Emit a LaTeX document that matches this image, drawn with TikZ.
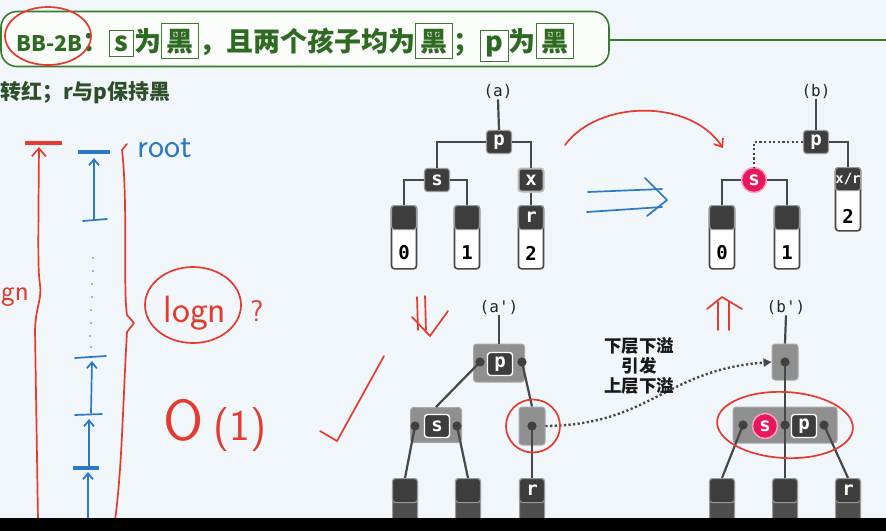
\documentclass[tikz,border=0pt]{standalone}
\usepackage{fontspec}
\newfontfamily\cjk{Noto Sans CJK SC}
\newfontfamily\mono{DejaVu Sans Mono}
\usetikzlibrary{arrows.meta,shapes.geometric,calc}

\definecolor{bgc}{HTML}{F1F6FB}
\definecolor{titlefill}{HTML}{FBFDFA}
\definecolor{tgreen}{HTML}{3A7B2C}
\definecolor{ttext}{HTML}{2E6A22}
\definecolor{subtext}{HTML}{2F4F2A}
\definecolor{edgec}{HTML}{474747}
\definecolor{nodec}{HTML}{3D3D3D}
\definecolor{nodeb}{HTML}{9A9A9A}
\definecolor{glowc}{HTML}{B8B8B8}
\definecolor{contc}{HTML}{8F8F8F}
\definecolor{contb}{HTML}{A9A9A9}
\definecolor{dotc}{HTML}{404040}
\definecolor{stackd}{HTML}{4E4E4E}
\definecolor{pinkc}{HTML}{E8175D}
\definecolor{pinkb}{HTML}{F5A3BF}
\definecolor{penred}{HTML}{E53A2E}
\definecolor{penblue}{HTML}{2B78C4}

% framed character in the heading
\newcommand\gbx[1]{{\setlength\fboxsep{4.5pt}\setlength\fboxrule{1pt}%
  \fcolorbox{tgreen}{white}{#1}}}

\tikzset{
  edge/.style={draw=edgec, line width=2.2},
  dotline/.style={draw=edgec, line width=2.4, dash pattern=on 2.2pt off 2.4pt},
  dnode/.style={rectangle, rounded corners=3, fill=nodec, draw=nodeb, line width=1.1,
    minimum width=25, minimum height=23, inner sep=0, text=white,
    font=\mono\bfseries\fontsize{19}{19}\selectfont},
  leafsq/.style={dnode, minimum height=24},
  stackbox/.style={rectangle, rounded corners=3, fill=white, draw=edgec, line width=1.6,
    minimum width=25, inner sep=0},
  stackdark/.style={rectangle, rounded corners=3, fill=stackd, draw=nodeb, line width=1,
    minimum width=25, inner sep=0},
  num/.style={font=\mono\bfseries\fontsize{19}{19}\selectfont, text=black, inner sep=0},
  lbl/.style={font=\mono\fontsize{16}{16}\selectfont, text=black!85, inner sep=1},
  gcont/.style={rectangle, rounded corners=3, fill=contc, draw=contb, line width=1, inner sep=0},
  inbox/.style={dnode, draw=white, line width=1.4},
  pinkn/.style={circle, fill=pinkc, draw=pinkb, line width=1.5, inner sep=0,
    minimum size=25, text=white, font=\mono\bfseries\fontsize{19}{19}\selectfont},
  redpen/.style={draw=penred, line width=1.7, line cap=round, line join=round},
  bluepen/.style={draw=penblue, line width=1.7, line cap=round, line join=round},
  hand/.style={font=\sffamily, inner sep=0},
}

\begin{document}
\begin{tikzpicture}[x=1pt, y=-1pt]
\useasboundingbox (0,0) rectangle (886,531);
\fill[bgc] (0,0) rectangle (886,531);

% ---------- heading ----------
\node[rectangle, rounded corners=16, draw=tgreen, line width=1.6, fill=titlefill,
  minimum width=608, minimum height=55, inner sep=0] (title) at (305,39) {};
\coordinate (rule end) at (886,40);
\draw[tgreen, line width=1.4] (title.east |- rule end) -- (rule end);
\node[anchor=base west, inner sep=0, text=ttext, font=\cjk\bfseries\fontsize{27}{27}\selectfont]
  (heading) at (16,51) {{\fontsize{21.5}{21.5}\selectfont BB-2B}：\gbx{s}为\gbx{黑}，且两个孩子均为\gbx{黑}；\gbx{p}为\gbx{黑}};
\node[anchor=west, inner sep=0, text=subtext, font=\cjk\bfseries\fontsize{21}{21}\selectfont]
  (sub) at (0,93) {转红；r与p保持黑};

% ---------- tree (a) ----------
\node[lbl] (la) at (498,91) {(a)};
\node[dnode] (ap) at (499,142) {p};
\node[dnode] (as) at (437,180) {s};
\node[dnode, draw=glowc, line width=2] (ax) at (531,180) {x};
\node[stackbox, minimum height=63, anchor=north] at (404,205) {};
\node[stackbox, minimum height=63, anchor=north] at (467,205) {};
\node[stackbox, minimum height=63, anchor=north] at (531,205) {};
\node[leafsq, anchor=north] (a0) at (404,205) {};
\node[leafsq, anchor=north] (a1) at (467,205) {};
\node[leafsq, anchor=north] (ar) at (531,205) {r};
\node[num] at (404,253) {0};
\node[num] at (467,253) {1};
\node[num] at (531,253) {2};
\draw[edge] (la.south) -- (ap.north);
\draw[edge] (ap.west) -| (as.north);
\draw[edge] (ap.east) -| (ax.north);
\draw[edge] (as.west) -| (a0.north);
\draw[edge] (as.east) -| (a1.north);
\draw[edge] (ax.south) -- (ar.north);

% ---------- tree (b) ----------
\node[lbl] (lb) at (816,91) {(b)};
\node[dnode] (bp) at (816,142) {p};
\node[pinkn] (bs) at (754,180) {s};
\node[stackbox, minimum height=63, anchor=north] at (722,205) {};
\node[stackbox, minimum height=63, anchor=north] at (787,205) {};
\node[stackbox, minimum height=63, anchor=north] at (848,167) {};
\node[leafsq, anchor=north] (b0) at (722,205) {};
\node[leafsq, anchor=north] (b1) at (787,205) {};
\node[dnode, anchor=north, font=\mono\bfseries\fontsize{14}{14}\selectfont] (bx) at (848,167) {x/r};
\node[num] at (722,253) {0};
\node[num] at (787,253) {1};
\node[num] at (848,216) {2};
\draw[edge] (lb.south) -- (bp.north);
\draw[dotline] (bp.west) -| (bs.north);
\draw[edge] (bp.east) -| (bx.north);
\draw[edge] (bs.west) -| (b0.north);
\draw[edge] (bs.east) -| (b1.north);

% ---------- tree (a') ----------
\node[lbl] (la2) at (499,307) {(a')};
\node[gcont, minimum width=51, minimum height=38] (apc) at (499,363) {};
\node[gcont, minimum width=51, minimum height=35] (asc) at (436,425) {};
\node[gcont, minimum width=26, minimum height=38] (arc) at (532,426) {};
\coordinate (apl) at (480,362);
\coordinate (apr) at (522,362);
\coordinate (asl) at (415,426);
\coordinate (asr) at (457,426);
\coordinate (arm) at (532,426);
\foreach \x in {405,468,532}
  \node[stackdark, minimum height=45, anchor=north] at (\x,478) {};
\node[leafsq, anchor=north] (c0) at (405,478) {};
\node[leafsq, anchor=north] (c1) at (468,478) {};
\node[leafsq, anchor=north] (cr) at (532,478) {r};
\draw[edge] (la2.south) -- (apc.north);
\draw[edge] (apl) -- (asc.north);
\draw[edge] (apr) -- (arc.north);
\draw[edge] (asl) -- (c0.north);
\draw[edge] (asr) -- (c1.north);
\draw[edge] (arm) -- (cr.north);
\foreach \d in {apl,apr,asl,asr,arm} \fill[dotc] (\d) circle (4.6);
\node[inbox] (app) at (500,364) {p};
\node[inbox] (ass) at (437,426) {s};

% ---------- tree (b') ----------
\node[lbl] (lb2) at (786,307) {(b')};
\node[gcont, minimum width=26, minimum height=36] (btc) at (785,362) {};
\node[gcont, minimum width=104, minimum height=36] (bmc) at (785,425) {};
\coordinate (btm) at (785,362);
\coordinate (bml) at (743,425);
\coordinate (bmm) at (785,425);
\coordinate (bmr) at (824,425);
\foreach \x in {722,785,848}
  \node[stackdark, minimum height=45, anchor=north] at (\x,478) {};
\node[leafsq, anchor=north] (d0) at (722,478) {};
\node[leafsq, anchor=north] (d1) at (785,478) {};
\node[leafsq, anchor=north] (dr) at (848,478) {r};
\draw[edge] (lb2.south) -- (btc.north);
\draw[edge] (btm) -- (bmm);
\draw[edge] (bml) -- (d0.north);
\draw[edge] (bmm) -- (d1.north);
\draw[edge] (bmr) -- (dr.north);
\foreach \d in {btm,bml,bmm,bmr} \fill[dotc] (\d) circle (4.6);
\node[pinkn] (bms) at (765,426) {s};
\node[inbox] (bmp) at (804,426) {p};

% overflow propagates upward
\draw[dotline, -{Triangle[length=8,width=8]}] (arc.east) .. controls (650,425) and (665,370) .. (btc.west);
\node[font=\cjk\bfseries\fontsize{17.5}{20}\selectfont, align=center, text=black!90, inner sep=0]
  (note) at (639,366) {下层下溢\\引发\\上层下溢};

% ---------- pen annotations ----------
\draw[redpen] (48,36) ellipse [x radius=43, y radius=29];
\draw[redpen, -{Straight Barb[length=7,width=11]}] (565,145) .. controls (598,100) and (690,98) .. (723,148);
\draw[bluepen] (588,192) -- (662,189);
\draw[bluepen] (587,212) -- (662,207);
\draw[bluepen] (645,178) -- (667,200) -- (647,216);
\draw[redpen] (417,297) -- (418,330) (425,296) -- (426,330) (412,317) -- (430,336) -- (448,311);
\draw[redpen] (718,330) -- (718,302) (729,330) -- (729,302) (707,309) -- (722,297) -- (742,309);
\draw[redpen] (533,426) ellipse [x radius=27, y radius=26.5];
\draw[redpen, rotate around={-3:(785,425)}] (785,425) ellipse [x radius=68, y radius=33];

% height sketch on the left
\draw[penred, line width=3.2] (25,143) -- (62,143);
\draw[redpen, -{Straight Barb[length=8,width=14]}] (38,520) -- (35,330) .. controls (36,305) and (42,300) .. (40,285) .. controls (38,270) and (38,260) .. (39,147);
\node[hand, text=penred, anchor=base west, font=\sffamily\fontsize{29}{29}\selectfont] (gn) at (1,300) {gn};
\draw[redpen] (127,144) -- (122,150) .. controls (128,200) and (123,290) .. (127,315) -- (134,323) -- (127,332) .. controls (123,400) and (122,470) .. (115,520);

\draw[penblue, line width=3.4] (78,152) -- (110,152);
\draw[bluepen, -{Straight Barb[length=6,width=10]}] (94,220) -- (94,158);
\draw[bluepen] (83,221) -- (107,219);
\foreach \y/\x in {258/93,271/93,284/92,297/92,310/91,323/91,336/90,347/91}
  \fill[penblue] (\x,\y) circle (0.9);
\draw[bluepen] (75,358) -- (106,356);
\draw[bluepen, -{Straight Barb[length=6,width=10]}] (91,413) -- (92,361);
\draw[bluepen] (75,415) -- (102,414);
\draw[bluepen, -{Straight Barb[length=6,width=10]}] (89,467) -- (89,419);
\draw[penblue, line width=3.4] (73,468) -- (99,468);
\draw[bluepen, -{Straight Barb[length=6,width=10]}] (88,520) -- (88,472);
\node[hand, text=penblue, anchor=base west, font=\sffamily\fontsize{34}{34}\selectfont] (root) at (137,157) {root};

\draw[redpen] (193,305) ellipse [x radius=48, y radius=38];
\node[hand, text=penred, anchor=base, font=\sffamily\fontsize{38}{38}\selectfont] (logn) at (195,322) {logn};
\node[hand, text=penred, anchor=base west, font=\sffamily\fontsize{30}{30}\selectfont] (qm) at (250,321) {?};
\node[hand, text=penred, anchor=base west] (o1) at (163,440)
  {{\fontsize{58}{58}\selectfont O}\hspace{10pt}{\fontsize{44}{44}\selectfont (1)}};
\draw[redpen] (320,431) -- (337,441) -- (384,356);

% bottom band
\fill[black] (0,518) rectangle (886,531);
\end{tikzpicture}
\end{document}
